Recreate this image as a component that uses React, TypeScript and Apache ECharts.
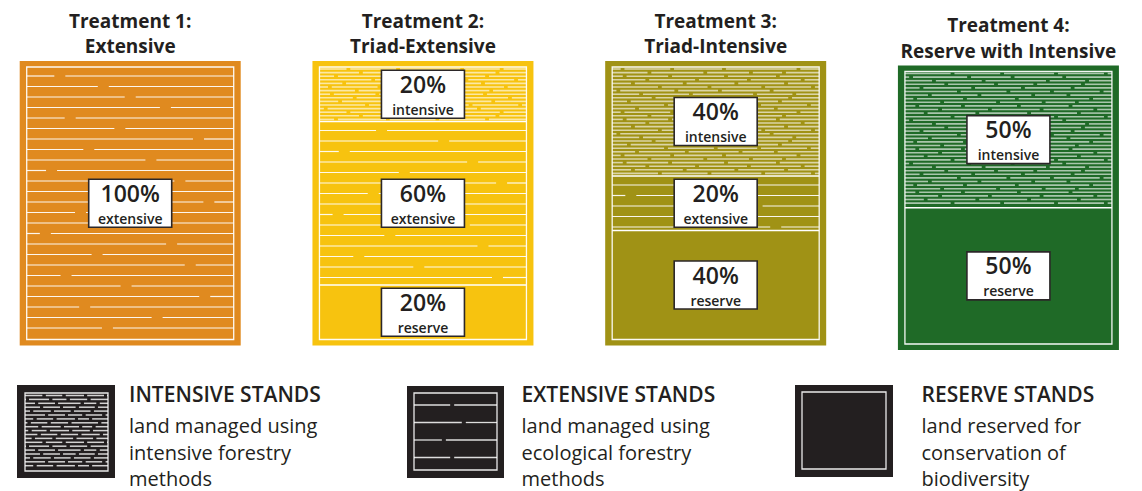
import React, { useEffect, useRef } from 'react';
import * as echarts from 'echarts';

// ---------- data ----------
const TITLE_LINE1 = ['Treatment 1:', 'Treatment 2:', 'Treatment 3:', 'Treatment 4:'];
const TITLE_LINE2 = ['Extensive', 'Triad-Extensive', 'Triad-Intensive', 'Reserve with Intensive'];
const INTENSIVE = [0, 20, 40, 50];
const EXTENSIVE = [100, 60, 20, 0];
const RESERVE = [0, 20, 40, 50];
const SECTION_NAMES = ['intensive', 'extensive', 'reserve'];
const LEGEND_TITLES = ['INTENSIVE STANDS', 'EXTENSIVE STANDS', 'RESERVE STANDS'];
const LEGEND_LINES = [
  ['land managed using', 'intensive forestry', 'methods'],
  ['land managed using', 'ecological forestry', 'methods'],
  ['land reserved for', 'conservation of', 'biodiversity'],
];

// ---------- texture (decorative gap positions, fractions of width) ----------
const EXT_GAPS = [
  [0.16], [0.37], [0.5], [0.67], [0.21], [0.45], [0.83], [0.3], [0.6], [0.12], [0.74], [0.41], [0.88],
  [0.26], [0.55], [0.09], [0.7], [0.34], [0.79], [0.19], [0.48], [0.86], [0.28], [0.63], [0.39],
];
const INT_GAPS = [
  [0.06, 0.28, 0.55, 0.8],
  [0.17, 0.41, 0.66, 0.92],
  [0.1, 0.35, 0.6, 0.84],
  [0.23, 0.47, 0.73, 0.97],
  [0.03, 0.31, 0.52, 0.77],
  [0.14, 0.38, 0.69, 0.88],
  [0.2, 0.44, 0.63, 0.86],
  [0.08, 0.33, 0.57, 0.81],
  [0.26, 0.5, 0.71, 0.95],
  [0.12, 0.36, 0.62, 0.79],
  [0.05, 0.29, 0.54, 0.9],
  [0.18, 0.45, 0.67, 0.83],
];
const LEGEND_EXT_GAPS = [[0.46], [0.6], [0.36], [0.46]];

// ---------- style ----------
const PANEL_COLORS = ['#E08A1F', '#F7C30F', '#A09215', '#1F6A27'];
const PANEL_SHIFT = [0, 0, 0, 4.5];
const INNER_HALF = 103.5;
const PAD_X = 7;
const PAD_Y = 6;
const DARK = '#231F20';
const FONT = '"Open Sans", "DejaVu Sans", sans-serif';

function ln(x1: number, y1: number, x2: number, y2: number, stroke: string, lw: number, opacity = 1) {
  return { type: 'line', shape: { x1, y1, x2, y2 }, style: { stroke, lineWidth: lw, opacity } };
}

function hatch(
  x0: number, x1: number, yS: number, yE: number, spacing: number, offset: number,
  rows: number[][], rowShift: number, gapW: number, lw: number, stroke: string, opacity: number,
  dotColor: string | null, dotSize: number
) {
  const out: any[] = [];
  const w = x1 - x0;
  let k = 0;
  for (let y = yS + offset; y <= yE - 2; y += spacing, k++) {
    const gaps = rows[(k + rowShift) % rows.length].map((f) => x0 + f * w).sort((a, b) => a - b);
    let cur = x0;
    for (const g of gaps) {
      const a = g - gapW / 2;
      if (a > cur) out.push(ln(cur, y, a, y, stroke, lw, opacity));
      cur = g + gapW / 2;
    }
    if (cur < x1) out.push(ln(cur, y, x1, y, stroke, lw, opacity));
    if (dotColor) {
      gaps.forEach((g) =>
        out.push({
          type: 'rect',
          shape: { x: g - dotSize / 2, y: y - dotSize / 2, width: dotSize, height: dotSize },
          style: { fill: dotColor },
        })
      );
    }
  }
  return out;
}

function txt(text: string, x: number, y: number, size: number, weight: any, align = 'center') {
  return {
    type: 'text',
    style: {
      text, x, y, fill: DARK, fontSize: size, fontFamily: FONT, fontWeight: weight,
      align, verticalAlign: 'middle', textAlign: align, textVerticalAlign: 'middle',
    },
  };
}

function labelBox(cx: number, cy: number, pct: number, name: string) {
  return [
    {
      type: 'rect',
      shape: { x: cx - 41.5, y: cy - 24, width: 83, height: 48 },
      style: { fill: '#ffffff', stroke: '#2b2728', lineWidth: 1.6 },
    },
    txt(pct + '%', cx, cy - 10.5, 23, 600),
    txt(name, cx, cy + 15, 14, 600),
  ];
}

const DATA = TITLE_LINE1.map((_, i) => [i, INTENSIVE[i], EXTENSIVE[i], RESERVE[i]]);

function renderPanel(params: any, api: any) {
  const i = api.value(0);
  const vInt = api.value(1);
  const vExt = api.value(2);
  const vRes = api.value(3);
  const dy = PANEL_SHIFT[i];
  const c0 = api.coord([i, 0]);
  const cx = c0[0];
  const yTop = c0[1] + dy;
  const yBot = api.coord([i, 100])[1] + dy;
  const yA = api.coord([i, vInt])[1] + dy;
  const yB = api.coord([i, vInt + vExt])[1] + dy;
  const x0 = cx - INNER_HALF;
  const x1 = cx + INNER_HALF;
  const color = PANEL_COLORS[i];
  const ch: any[] = [];

  ch.push({
    type: 'rect',
    shape: { x: x0 - PAD_X, y: yTop - PAD_Y, width: x1 - x0 + 2 * PAD_X, height: yBot - yTop + 2 * PAD_Y },
    style: { fill: color },
  });
  if (vInt > 0) {
    ch.push(...hatch(x0, x1, yTop, yA, 3.6, 2, INT_GAPS, i * 5, 3.5, 1.6, '#ffffff', 0.62, color, 3.4));
  }
  if (vExt > 0) {
    ch.push(...hatch(x0, x1, yA, yB, 10.5, 9, EXT_GAPS, i * 7, 11, 1.2, '#ffffff', 0.92, null, 0));
  }
  if (vInt > 0 && yA < yBot - 1) ch.push(ln(x0, yA, x1, yA, '#ffffff', 1.3));
  if (vExt > 0 && yB < yBot - 1 && yB > yTop + 1) ch.push(ln(x0, yB, x1, yB, '#ffffff', 1.3));
  ch.push({
    type: 'rect',
    shape: { x: x0, y: yTop, width: x1 - x0, height: yBot - yTop },
    style: { fill: 'none', stroke: '#ffffff', lineWidth: 1.3, opacity: 0.95 },
  });
  if (vInt > 0) ch.push(...labelBox(cx, (yTop + yA) / 2, vInt, SECTION_NAMES[0]));
  if (vExt > 0) ch.push(...labelBox(cx, (yA + yB) / 2, vExt, SECTION_NAMES[1]));
  if (vRes > 0) ch.push(...labelBox(cx, (yB + yBot) / 2, vRes, SECTION_NAMES[2]));

  ch.push(txt(TITLE_LINE1[i], cx, yTop - PAD_Y - 40.5, 19, 'bold'));
  ch.push(txt(TITLE_LINE2[i], cx, yTop - PAD_Y - 15, 19, 'bold'));
  return { type: 'group', children: ch };
}

function legendElements() {
  const els: any[] = [];
  const icons = [
    { ox: 17, oy: 385, ow: 98, oh: 93, ix: 25, iy: 393, iw: 83, ih: 78, tx: 129 },
    { ox: 407, oy: 386, ow: 97, oh: 92, ix: 414, iy: 393, iw: 83, ih: 77, tx: 521.5 },
    { ox: 795, oy: 385, ow: 98, oh: 92, ix: 802, iy: 392, iw: 84, ih: 77, tx: 921.5 },
  ];
  icons.forEach((p, k) => {
    els.push({ type: 'rect', shape: { x: p.ox, y: p.oy, width: p.ow, height: p.oh }, style: { fill: DARK } });
    if (k === 0) {
      els.push(...hatch(p.ix, p.ix + p.iw, p.iy, p.iy + p.ih, 3.9, 2.5, INT_GAPS, 3, 3, 1.5, '#ffffff', 0.8, DARK, 3));
    } else if (k === 1) {
      els.push(...hatch(p.ix, p.ix + p.iw, p.iy, p.iy + p.ih, 17.5, 12, LEGEND_EXT_GAPS, 0, 4, 1.3, '#ffffff', 0.85, null, 0));
    }
    els.push({
      type: 'rect',
      shape: { x: p.ix, y: p.iy, width: p.iw, height: p.ih },
      style: { fill: 'none', stroke: '#ffffff', lineWidth: 1.3, opacity: 0.9 },
    });
    els.push(txt(LEGEND_TITLES[k], p.tx, 394, 21, 600, 'left'));
    LEGEND_LINES[k].forEach((s, j) => {
      els.push(txt(s, p.tx, 425.5 + j * 26.5, 20, 'normal', 'left'));
    });
  });
  return els;
}

export default function App() {
  const ref = useRef<HTMLDivElement>(null);
  useEffect(() => {
    if (!ref.current) return;
    const chart = echarts.init(ref.current, null, { renderer: 'svg' });
    chart.setOption({
      animation: false,
      backgroundColor: '#ffffff',
      grid: { left: 0, top: 67, width: 1142, height: 272.5 },
      xAxis: { type: 'value', min: -0.4448, max: 3.4563, show: false },
      yAxis: { type: 'value', min: 0, max: 100, inverse: true, show: false },
      series: [
        {
          type: 'custom',
          silent: true,
          clip: false,
          renderItem: renderPanel,
          encode: { x: 0, y: 1 },
          data: DATA,
        },
      ],
      graphic: { elements: legendElements() },
    });
    return () => chart.dispose();
  }, []);
  return (
    <div
      ref={ref}
      style={{ position: 'fixed', left: 0, top: 0, width: 1142, height: 491, background: '#fff' }}
    />
  );
}
